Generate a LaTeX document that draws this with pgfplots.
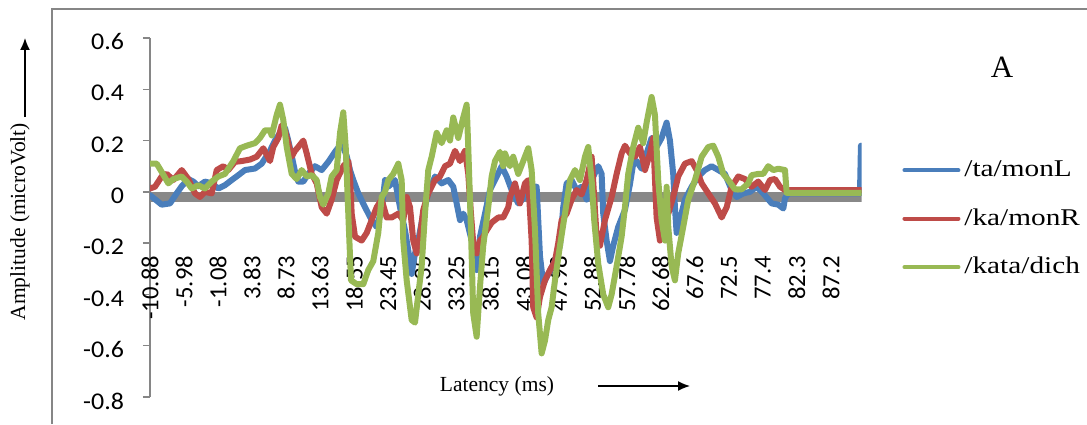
\documentclass[border=0pt]{standalone}
\usepackage{fontspec}
\setmainfont{Liberation Serif}
\newfontfamily\tickfont{Carlito}
\newfontfamily\ytickfont{Carlito}[FakeStretch=1.08]
\newfontfamily\legfont{Liberation Serif}[FakeStretch=1.22]
\usepackage{pgfplots}
\pgfplotsset{compat=1.18}
\usetikzlibrary{arrows.meta}
\definecolor{sblue}{RGB}{74,126,187}
\definecolor{sred}{RGB}{190,75,72}
\definecolor{sgreen}{RGB}{152,185,84}
\definecolor{zgray}{RGB}{136,136,136}
\definecolor{fgray}{RGB}{134,134,134}
\begin{document}
\begin{tikzpicture}
\path[use as bounding box] (0,0) rectangle (543.5pt,212pt);
\draw[fgray, line width=0.75pt] (26pt,0pt) -- (26pt,207.5pt) -- (543.5pt,207.5pt);
\begin{axis}[
  at={(75pt,13.5pt)}, anchor=south west,
  scale only axis, width=355.75pt, height=179.5pt,
  xmin=-10.88, xmax=91.6, ymin=-0.8, ymax=0.6,
  axis x line=middle, axis y line=left,
  axis line style={-},
  x axis line style={draw=none},
  y axis line style={draw=fgray, line width=0.75pt},
  hide obscured x ticks=false, hide obscured y ticks=false,
  xtick={-10.88,-5.98,-1.08,3.83,8.73,13.63,18.55,23.45,28.35,33.25,38.15,43.08,47.98,52.88,57.78,62.68,67.6,72.5,77.4,82.3,87.2},
  xticklabels={-10.88,-5.98,-1.08,3.83,8.73,13.63,18.55,23.45,28.35,33.25,38.15,43.08,47.98,52.88,57.78,62.68,67.6,72.5,77.4,82.3,87.2},
  ytick={-0.8,-0.6,-0.4,-0.2,0,0.2,0.4,0.6},
  yticklabels={-0.8,-0.6,-0.4,-0.2,0,0.2,0.4,0.6},
  xtick style={draw=none},
  ytick style={draw=fgray, line width=0.75pt},
  tick align=outside, major tick length=3.5pt,
  xticklabel style={rotate=90, anchor=east, font=\tickfont\fontsize{12.3}{14}\selectfont},
  yticklabel style={font=\ytickfont\fontsize{12}{14}\selectfont, yshift=-2pt, xshift=-6pt},
  xticklabel shift=25pt,
  legend cell align=left,
  legend image code/.code={\draw[#1, line width=2pt] (0pt,0pt) -- (27pt,0pt);},
  legend style={at={(1.057,0.67)}, anchor=north west, draw=none, fill=none,
    font=\legfont\fontsize{12}{14}\selectfont, row sep=10.5pt, inner sep=0pt},
]
\addplot[zgray, line width=5pt, forget plot] coordinates {(-10.88,-0.0195) (91.6,-0.0195)};
\addplot[sblue, line width=3pt, line join=round, line cap=round] coordinates {
(-10.88,-0.013) (-9.20,-0.05) (-8.00,-0.045) (-7.04,-0.006) (-6.31,0.022) (-5.36,0.05) (-4.64,0.04) (-3.92,0.022) (-2.96,0.04) (-1.99,0.033) (-1.04,0.013) (-0.08,0.026) (0.89,0.046) (1.84,0.065) (2.80,0.085) (4.24,0.091) (5.21,0.11) (6.40,0.16) (7.12,0.2) (8.09,0.24) (8.56,0.25) (9.04,0.2) (9.53,0.14) (10.00,0.08) (10.48,0.04) (11.20,0.04) (11.92,0.07) (12.88,0.1) (13.85,0.085) (14.80,0.117) (15.77,0.156) (16.73,0.19) (17.45,0.14) (17.93,0.085) (18.40,0.046) (19.12,-0.006) (20.09,-0.06) (21.05,-0.11) (21.77,-0.137) (22.49,-0.07) (22.97,0.046) (23.44,0.02) (24.41,0.046) (25.13,-0.06) (25.85,-0.15) (26.57,-0.27) (26.81,-0.32) (27.29,-0.24) (27.76,-0.19) (28.48,-0.085) (29.20,-0.006) (30.17,0.06) (31.13,0.033) (32.08,0.046) (32.80,0.02) (33.29,-0.045) (33.77,-0.11) (34.24,-0.085) (34.73,-0.11) (35.45,-0.19) (36.17,-0.305) (36.65,-0.175) (37.37,-0.085) (38.09,0.007) (38.81,0.046) (39.77,0.1) (40.49,0.06) (41.21,0.007) (42.16,-0.045) (43.13,-0.02) (44.09,0.02) (44.81,0.02) (45.04,-0.11) (45.29,-0.25) (45.76,-0.36) (46.48,-0.32) (47.45,-0.27) (48.17,-0.21) (48.64,-0.06) (49.13,0.033) (49.85,0.046) (50.57,0.007) (51.29,0.02) (52.01,-0.03) (52.73,0.046) (53.68,0.1) (54.17,0.07) (54.40,-0.085) (54.89,-0.19) (55.37,-0.27) (55.84,-0.21) (56.56,-0.137) (57.53,-0.07) (58.25,0.03) (58.72,0.11) (59.21,0.12) (59.93,0.09) (60.65,0.15) (61.37,0.21) (62.09,0.175) (62.81,0.21) (63.53,0.27) (64.01,0.2) (64.48,0.07) (64.73,-0.06) (64.97,-0.16) (65.45,-0.11) (66.17,-0.03) (67.14,0.02) (68.09,0.06) (69.05,0.085) (70.01,0.1) (70.97,0.085) (71.93,0.07) (72.90,0.007) (73.62,-0.02) (74.57,-0.006) (75.54,0) (76.50,0.02) (77.45,-0.006) (78.66,-0.045) (79.61,-0.05) (80.34,-0.065) (80.58,-0.025) (81.05,-0.006) (91.38,-0.006) (91.52,0.18)
};
\addlegendentry{/ta/monL}
\addplot[sred, line width=3pt, line join=round, line cap=round] coordinates {
(-10.88,0.013) (-10.16,0.02) (-9.20,0.06) (-8.47,0.07) (-7.52,0.046) (-6.31,0.085) (-5.36,0.05) (-4.40,-0.006) (-3.68,-0.02) (-2.96,0) (-1.99,-0.006) (-1.27,0.085) (-0.32,0.1) (0.40,0.085) (1.36,0.117) (2.33,0.12) (3.52,0.126) (4.49,0.137) (5.44,0.17) (6.40,0.12) (6.88,0.175) (7.60,0.21) (8.09,0.26) (8.56,0.24) (9.04,0.19) (9.53,0.137) (10.00,0.16) (10.48,0.175) (11.20,0.2) (11.69,0.15) (12.41,0.07) (13.13,0.033) (13.85,-0.06) (14.57,-0.085) (15.29,-0.03) (16.01,0.046) (16.96,0.1) (17.68,0.12) (17.93,0.06) (18.17,-0.085) (18.65,-0.175) (19.61,-0.19) (20.33,-0.16) (21.05,-0.11) (21.77,-0.06) (22.49,-0.03) (23.21,-0.1) (23.93,-0.1) (24.88,-0.085) (25.60,-0.11) (26.09,-0.02) (26.57,-0.06) (27.04,-0.19) (27.53,-0.24) (28.01,-0.175) (28.48,-0.07) (29.20,-0.006) (30.17,0.046) (30.89,0.06) (31.61,0.1) (32.33,0.11) (33.05,0.16) (33.77,0.12) (34.49,0.16) (34.96,0.07) (35.35,-0.085) (35.68,-0.2) (36.17,-0.24) (36.65,-0.19) (37.12,-0.175) (37.61,-0.15) (38.33,-0.12) (39.28,-0.1) (40.00,-0.1) (40.72,-0.06) (40.97,-0.02) (41.69,0.033) (42.41,-0.045) (43.13,0.033) (43.60,0.046) (44.09,-0.19) (44.32,-0.45) (44.81,-0.49) (45.29,-0.41) (46.01,-0.345) (46.73,-0.305) (47.45,-0.27) (47.92,-0.2) (48.41,-0.11) (49.13,-0.085) (49.85,-0.03) (50.57,0.007) (51.29,-0.01) (52.01,0.046) (52.73,0.137) (53.10,-0.02) (53.45,-0.175) (53.93,-0.21) (54.65,-0.11) (55.61,-0.02) (56.33,0.07) (57.05,0.15) (57.53,0.18) (58.25,0.15) (58.97,0.137) (59.69,0.175) (60.41,0.085) (61.13,0.15) (61.60,0.21) (62.09,-0.1) (62.57,-0.19) (63.04,-0.15) (63.77,-0.085) (64.48,-0.02) (65.20,0.06) (66.17,0.11) (67.14,0.12) (67.86,0.085) (68.58,0.033) (69.53,-0.006) (70.49,-0.045) (71.46,-0.1) (72.18,-0.06) (72.90,0.02) (73.85,0.06) (74.81,0.05) (75.78,0.02) (76.73,0.04) (77.70,0.007) (78.42,0.046) (79.14,0.05) (79.86,0.02) (80.58,0.007) (91.52,0.007)
};
\addlegendentry{/ka/monR}
\addplot[sgreen, line width=3pt, line join=round, line cap=round] coordinates {
(-10.88,0.11) (-9.92,0.11) (-9.20,0.078) (-8.24,0.033) (-7.52,0.05) (-6.31,0.06) (-5.59,0.04) (-4.87,0.013) (-3.92,0.026) (-2.96,0.013) (-1.99,0.04) (-1.04,0.06) (-0.08,0.07) (1.12,0.12) (2.08,0.17) (3.05,0.18) (4.24,0.19) (4.96,0.21) (5.68,0.24) (6.40,0.24) (6.65,0.22) (7.37,0.3) (7.84,0.34) (8.32,0.28) (8.81,0.175) (9.53,0.07) (10.25,0.05) (10.97,0.085) (11.69,0.06) (12.41,0.065) (13.13,0.046) (13.60,-0.02) (14.08,-0.05) (14.80,-0.006) (15.29,0.06) (16.01,0.085) (16.49,0.23) (16.96,0.31) (17.31,0.175) (17.68,-0.085) (18.07,-0.345) (18.89,-0.36) (19.84,-0.36) (20.56,-0.305) (21.28,-0.27) (22.00,-0.16) (22.49,-0.02) (22.97,0.0) (23.44,0.046) (24.16,0.07) (24.88,0.11) (25.37,0.046) (25.60,-0.19) (26.09,-0.345) (26.81,-0.5) (27.29,-0.51) (27.76,-0.4) (28.25,-0.29) (28.73,-0.085) (29.20,0.085) (29.69,0.137) (30.41,0.23) (31.13,0.19) (31.85,0.24) (32.33,0.2) (32.80,0.29) (33.52,0.21) (34.24,0.29) (34.73,0.34) (34.96,0.175) (35.35,-0.15) (35.68,-0.475) (36.17,-0.565) (36.65,-0.37) (37.12,-0.21) (37.84,-0.06) (38.33,0.06) (38.81,0.12) (39.53,0.156) (40.00,0.1) (40.25,0.15) (40.97,0.1) (41.44,0.137) (42.16,0.07) (42.88,0.12) (43.60,0.17) (44.09,0.085) (44.57,-0.15) (45.04,-0.475) (45.53,-0.63) (46.01,-0.58) (46.48,-0.5) (46.97,-0.45) (47.45,-0.345) (48.17,-0.21) (48.89,-0.085) (49.61,0.046) (50.33,0.085) (51.05,0.046) (51.77,0.137) (52.24,0.175) (52.73,0.046) (53.10,-0.11) (53.68,-0.28) (54.40,-0.4) (55.12,-0.45) (55.61,-0.4) (56.33,-0.29) (57.05,-0.175) (57.53,-0.06) (58.00,0.07) (58.72,0.175) (59.44,0.25) (60.16,0.19) (60.65,0.27) (61.37,0.37) (61.85,0.3) (62.32,0.046) (62.81,-0.11) (63.29,-0.19) (63.53,0.02) (63.77,-0.137) (64.25,-0.29) (64.73,-0.345) (65.20,-0.24) (65.92,-0.137) (66.65,-0.03) (67.61,0.046) (68.58,0.137) (69.53,0.175) (70.25,0.18) (70.97,0.137) (71.69,0.07) (72.41,0.046) (73.37,0.01) (74.34,0.01) (75.29,0.033) (75.78,0.065) (76.73,0.07) (77.45,0.07) (78.17,0.1) (78.89,0.085) (79.61,0.09) (80.58,0.085) (80.82,-0.004) (91.52,-0.004)
};
\addlegendentry{/kata/dich}
\end{axis}
\node[rotate=90, font=\fontsize{10.75}{12}\selectfont] at (10pt,101.15pt) {Amplitude (microVolt)};
\draw[line width=0.75pt, -{Latex[length=6pt,width=5pt]}] (12.5pt,153.5pt) -- (12.5pt,193pt);
\node[font=\fontsize{10.75}{12}\selectfont] at (248.5pt,19pt) {Latency (ms)};
\draw[line width=0.75pt, -{Latex[length=6pt,width=5pt]}] (299pt,19pt) -- (345pt,19pt);
\node[font=\fontsize{15.5}{17}\selectfont] at (501pt,178.25pt) {A};
\end{tikzpicture}
\end{document}
